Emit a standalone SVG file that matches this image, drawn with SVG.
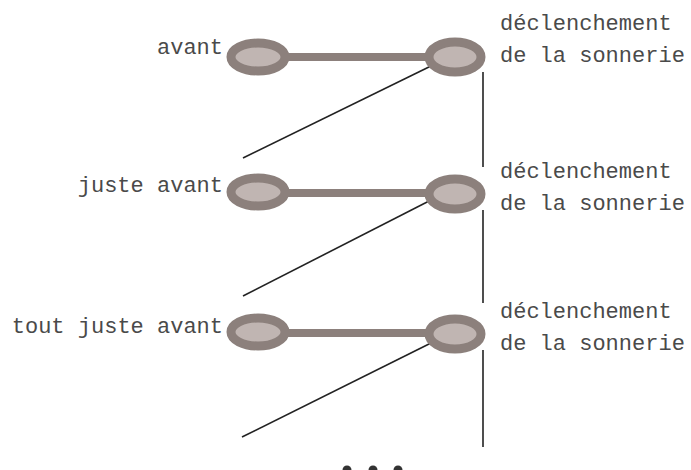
<svg xmlns="http://www.w3.org/2000/svg" width="691" height="470" viewBox="0 0 691 470">
  <style>
    .lbl { font-family: "Liberation Mono", "DejaVu Sans Mono", monospace; font-size: 22px; fill: #4a4a4a; }
    .end { text-anchor: end; }
    .bar { stroke: #8c807c; stroke-width: 8; fill: none; }
    .ring { stroke: #8c807c; stroke-width: 9; fill: #c0b5b2; }
    .thin { stroke: #222; stroke-width: 1.6; fill: none; }
    .dot { fill: #333; }
  </style>

  <!-- thin timeline connectors -->
  <g id="connectors">
    <line class="thin" x1="243" y1="158" x2="433" y2="65"/>
    <line class="thin" x1="243" y1="296" x2="433" y2="199"/>
    <line class="thin" x1="242" y1="437" x2="433" y2="342"/>
    <line class="thin" x1="483" y1="72" x2="483" y2="167"/>
    <line class="thin" x1="483" y1="210" x2="483" y2="303"/>
    <line class="thin" x1="483" y1="350" x2="483" y2="447"/>
  </g>

  <!-- row 1 -->
  <g id="row1">
    <line class="bar" x1="285" y1="57" x2="428" y2="57"/>
    <ellipse class="ring" cx="258" cy="57" rx="27" ry="14"/>
    <ellipse class="ring" cx="455" cy="57" rx="26" ry="15"/>
    <text class="lbl end" x="223" y="54">avant</text>
    <text class="lbl" x="500" y="30">déclenchement</text>
    <text class="lbl" x="500" y="62">de la sonnerie</text>
  </g>

  <!-- row 2 -->
  <g id="row2">
    <line class="bar" x1="285" y1="193" x2="428" y2="193"/>
    <ellipse class="ring" cx="258" cy="192" rx="27" ry="14"/>
    <ellipse class="ring" cx="455" cy="194" rx="26" ry="15"/>
    <text class="lbl end" x="223" y="192">juste avant</text>
    <text class="lbl" x="500" y="178">déclenchement</text>
    <text class="lbl" x="500" y="210">de la sonnerie</text>
  </g>

  <!-- row 3 -->
  <g id="row3">
    <line class="bar" x1="285" y1="333" x2="428" y2="333"/>
    <ellipse class="ring" cx="258" cy="332" rx="27" ry="14"/>
    <ellipse class="ring" cx="455" cy="334" rx="26" ry="15"/>
    <text class="lbl end" x="223" y="333">tout juste avant</text>
    <text class="lbl" x="500" y="318">déclenchement</text>
    <text class="lbl" x="500" y="350">de la sonnerie</text>
  </g>

  <!-- continuation dots -->
  <g id="ellipsis">
    <circle class="dot" cx="347" cy="470" r="4.5"/>
    <circle class="dot" cx="373" cy="470" r="4.5"/>
    <circle class="dot" cx="398" cy="470" r="4.5"/>
  </g>
</svg>
